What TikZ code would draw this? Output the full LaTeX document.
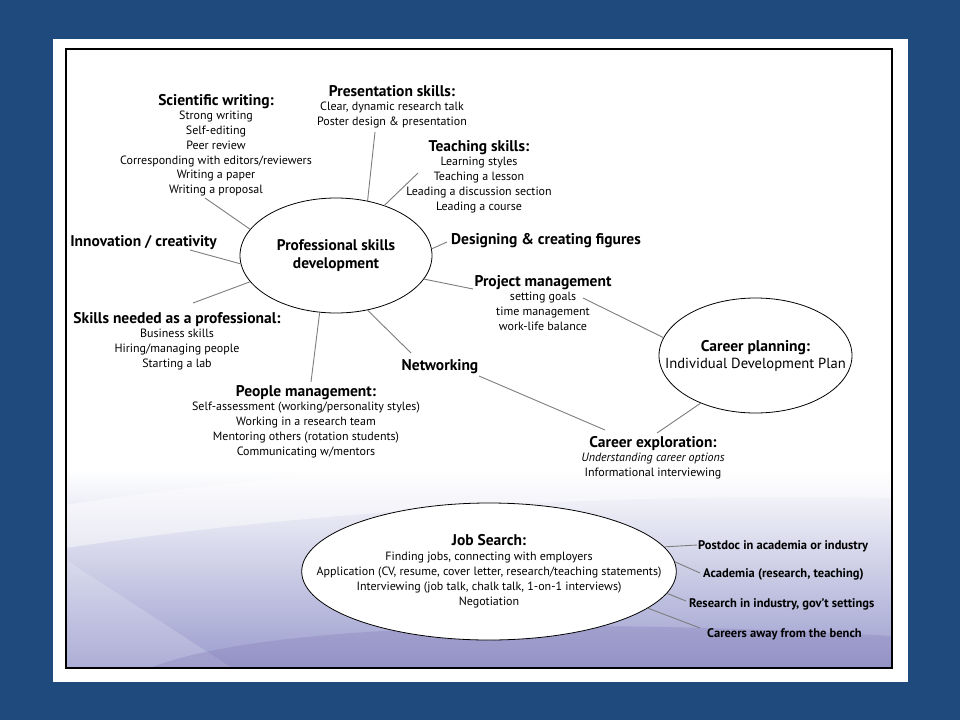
\documentclass[tikz,border=0pt]{standalone}
\usepackage{fontspec}
\setmainfont{PT Sans}
\usetikzlibrary{shapes.geometric}
\newcommand\topichead[1]{{\bfseries\fontsize{15.5}{14.7}\selectfont #1}}
\begin{document}
\begin{tikzpicture}[x=1pt,y=-1pt,
  conn/.style={draw=lineColor,line width=0.9pt},
  oval/.style={ellipse,draw=black,line width=0.8pt,fill=white,inner sep=0pt,align=center},
  topic/.style={align=center,inner sep=0pt,anchor=north,font=\fontsize{12}{14.7}\selectfont},
  single/.style={inner sep=0pt,anchor=base,font=\bfseries\fontsize{15.5}{15}\selectfont},
  career/.style={inner sep=0pt,anchor=base west,font=\bfseries\fontsize{12.5}{14}\selectfont}]
\definecolor{bgColor}{RGB}{31,74,126}
\definecolor{lineColor}{RGB}{125,125,125}
\definecolor{skyColor}{RGB}{196,212,236}
\definecolor{lavColor}{RGB}{155,157,206}
\definecolor{arcColor}{RGB}{135,128,185}

\path[use as bounding box,fill=bgColor] (0,0) rectangle (960,720);
\path[fill=white] (53,39) rectangle (908,682);
\shade[top color=white,middle color=skyColor,bottom color=lavColor] (66,470) rectangle (892,668);
\path[fill=white,fill opacity=0.45] (66,505) .. controls (300,468) and (600,452) .. (892,468) -- (892,498) .. controls (600,492) and (300,512) .. (66,548) -- cycle;
\path[fill=white,fill opacity=0.18] (66,560) -- (232,668) -- (66,668) -- cycle;
\path[fill=arcColor,fill opacity=0.35] (150,668) .. controls (250,628) and (520,615) .. (892,636) -- (892,668) -- cycle;
\path[draw=black,line width=2.5pt] (66,49) rectangle (892,668);

\node[oval,minimum width=192pt,minimum height=115pt,font=\bfseries\fontsize{15.4}{18}\selectfont] (pro) at (336,255.5) {Professional skills\\development};
\node[oval,inner xsep=-30pt,minimum width=193pt,minimum height=115pt,font=\fontsize{14.6}{17}\selectfont] (plan) at (755.5,355.5) {\topichead{Career planning:}\\Individual Development Plan};
\node[oval,inner xsep=-40pt,minimum width=366pt,minimum height=137pt,font=\fontsize{12}{15}\selectfont] (job) at (489,571.5) {\topichead{Job Search:}\\Finding jobs, connecting with employers\\Application (CV, resume, cover letter, research/teaching statements)\\Interviewing (job talk, chalk talk, 1-on-1 interviews)\\Negotiation};

\node[topic] (sci) at (216,94) {\topichead{Scientific writing:}\\Strong writing\\Self-editing\\Peer review\\Corresponding with editors/reviewers\\Writing a paper\\Writing a proposal};
\node[topic] (pres) at (392,85) {\topichead{Presentation skills:}\\Clear, dynamic research talk\\Poster design \& presentation};
\node[topic] (teach) at (479,140) {\topichead{Teaching skills:}\\Learning styles\\Teaching a lesson\\Leading a discussion section\\Leading a course};
\node[topic] (proj) at (543,275) {\topichead{Project management}\\setting goals\\time management\\work-life balance};
\node[topic] (prof) at (177,312) {\topichead{Skills needed as a professional:}\\Business skills\\Hiring/managing people\\Starting a lab};
\node[topic] (people) at (306,385) {\topichead{People management:}\\Self-assessment (working/personality styles)\\Working in a research team\\Mentoring others (rotation students)\\Communicating w/mentors};
\node[topic] (explore) at (653,436) {\topichead{Career exploration:}\\{\itshape Understanding career options}\\Informational interviewing};
\node[single] (innov) at (143.5,246) {Innovation / creativity};
\node[single] (figs) at (546,244.5) {Designing \& creating figures};
\node[single] (net) at (440,370.5) {Networking};

\node[career] (postdoc) at (698,549.3) {Postdoc in academia or industry};
\node[career] (acad) at (703,577.3) {Academia (research, teaching)};
\node[career] (indus) at (689,607.3) {Research in industry, gov't settings};
\node[career] (bench) at (707,637.3) {Careers away from the bench};

\coordinate (sciEnd) at (205,198);
\coordinate (innovEnd) at (190,250);
\coordinate (profEnd) at (193,303);
\coordinate (peopleEnd) at (311,382);
\coordinate (netEnd) at (411,353);
\coordinate (projEnd) at (473,289);
\coordinate (figsEnd) at (447,242);
\coordinate (teachEnd) at (418,173);
\coordinate (presEnd) at (375,132);
\coordinate (goalsEnd) at (583,298);
\coordinate (exploreEnd) at (657,433);
\coordinate (netOut) at (479,376);
\coordinate (exploreIn) at (605,430);
\coordinate (postdocEnd) at (697,545);
\coordinate (acadEnd) at (700,573);
\coordinate (indusEnd) at (686,601);
\coordinate (benchEnd) at (700,628);

\draw[conn] (pro.163) -- (sciEnd);
\draw[conn] (pro.185) -- (innovEnd);
\draw[conn] (pro.197) -- (profEnd);
\draw[conn] (pro.254) -- (peopleEnd);
\draw[conn] (pro.300) -- (netEnd);
\draw[conn] (pro.345) -- (projEnd);
\draw[conn] (pro.4) -- (figsEnd);
\draw[conn] (pro.46) -- (teachEnd);
\draw[conn] (pro.60) -- (presEnd);
\draw[conn] (plan.169) -- (goalsEnd);
\draw[conn] (plan.221) -- (exploreEnd);
\draw[conn] (netOut) -- (exploreIn);
\draw[conn] (job.8) -- (postdocEnd);
\draw[conn] (job.3) -- (acadEnd);
\draw[conn] (job.353) -- (indusEnd);
\draw[conn] (job.347) -- (benchEnd);
\end{tikzpicture}
\end{document}
